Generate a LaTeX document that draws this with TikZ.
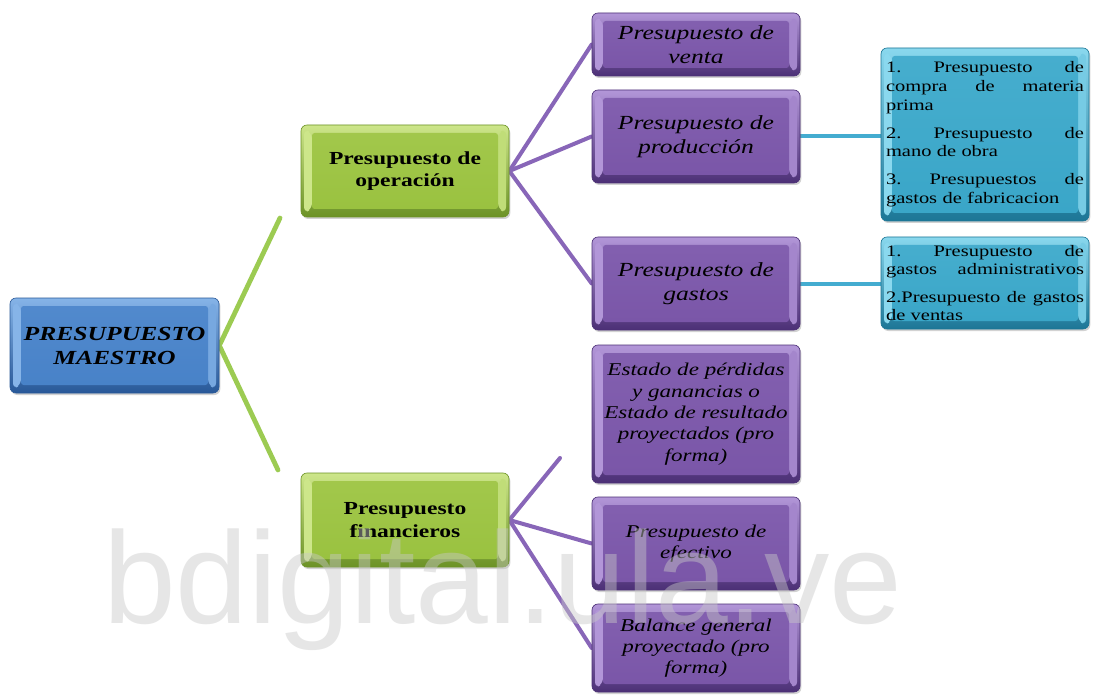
\documentclass[tikz,border=0pt]{standalone}
\usepackage{fontspec}
\setmainfont{Liberation Serif}
\newfontfamily\boxfont{Liberation Serif}[FakeStretch=1.28]
\newfontfamily\markfont{Liberation Sans}
\usetikzlibrary{calc,shadows,backgrounds}

% box palettes: light / mid / dark
\definecolor{rootL}{RGB}{134,180,232}
\definecolor{rootM}{RGB}{72,130,200}
\definecolor{rootD}{RGB}{40,88,152}
\definecolor{greenL}{RGB}{205,230,138}
\definecolor{greenM}{RGB}{154,194,64}
\definecolor{greenD}{RGB}{108,146,38}
\definecolor{purpL}{RGB}{178,150,216}
\definecolor{purpM}{RGB}{122,86,168}
\definecolor{purpD}{RGB}{76,48,118}
\definecolor{cyanL}{RGB}{138,216,238}
\definecolor{cyanM}{RGB}{58,166,200}
\definecolor{cyanD}{RGB}{28,118,150}
% connectors and watermark
\definecolor{greenLink}{RGB}{156,203,82}
\definecolor{purpLink}{RGB}{136,102,184}
\definecolor{cyanLink}{RGB}{68,172,208}
\definecolor{markGray}{RGB}{200,200,200}

% a fully justified line of the detail lists
\newcommand\spreadline[1]{\leavevmode\hbox to 148.5pt{#1}}

\begin{document}
\begin{tikzpicture}[x=0.75pt,y=-0.75pt,
  wh/.style 2 args={minimum width=#1*0.75pt, minimum height=#2*0.75pt},
  bevel/.style n args={3}{
    rounded corners=4.5pt, draw=#3, line width=0.5pt,
    top color=#1, bottom color=#3, inner sep=0pt, text=black,
    drop shadow={shadow xshift=1pt, shadow yshift=-1.5pt, opacity=0.35},
    path picture={
      \path (path picture bounding box.north west) coordinate (bvNW)
            (path picture bounding box.south east) coordinate (bvSE)
            (path picture bounding box.south west) coordinate (bvSW)
            (path picture bounding box.north east) coordinate (bvNE);
      \fill[#1] ($(bvNW)+(3,4)$) -- ($(bvNW)+(11,8)$) -- ($(bvSW)+(11,-8)$)
                -- ($(bvSW)+(3,-4)$) -- cycle;
      \fill[#1!75!#2] ($(bvNE)+(-3,4)$) -- ($(bvNE)+(-11,8)$) -- ($(bvSE)+(-11,-8)$)
                -- ($(bvSE)+(-3,-4)$) -- cycle;
      \shade[top color=#2!85!#1, bottom color=#2, rounded corners=2pt]
            ($(bvNW)+(11,8)$) rectangle ($(bvSE)+(-11,-8)$);
    }},
  rootbox/.style={bevel={rootL}{rootM}{rootD}, align=center,
    font=\boxfont\bfseries\itshape\fontsize{15}{18}\selectfont},
  opbox/.style={bevel={greenL}{greenM}{greenD}, align=center,
    font=\boxfont\bfseries\fontsize{13.8}{17}\selectfont},
  itembox/.style={bevel={purpL}{purpM}{purpD}, align=center,
    font=\boxfont\itshape\fontsize{15}{18}\selectfont},
  smallitem/.style={bevel={purpL}{purpM}{purpD}, align=center,
    font=\boxfont\itshape\fontsize{13.5}{16}\selectfont},
  listbox/.style={bevel={cyanL}{cyanM}{cyanD}, align=left,
    text width=148.5pt, font=\boxfont\fontsize{12}{14}\selectfont},
  greenlink/.style={draw=greenLink, line width=3.6pt, line cap=round},
  purplelink/.style={draw=purpLink, line width=3pt, line cap=round},
  cyanlink/.style={draw=cyanLink, line width=3pt},
  markstyle/.style={font=\markfont\fontsize{98}{98}\selectfont,
    text=markGray, text opacity=0.45, inner sep=0pt}
]
\useasboundingbox (0,0) rectangle (1095,695);
\begin{pgfonlayer}{background}
  \fill[white] (0,0) rectangle (1095,695);
\end{pgfonlayer}

% root
\node[rootbox, wh={209}{95}] (maestro) at (114.5,345.5) {PRESUPUESTO\\MAESTRO};

% second level
\node[opbox, wh={208}{92}] (operacion) at (405,171) {Presupuesto de\\operación};
\node[opbox, wh={208}{94}] (financieros) at (405,520) {Presupuesto\\financieros};

% third level
\node[itembox, wh={208}{63}] (venta) at (696,44.5) {Presupuesto de\\venta};
\node[itembox, wh={208}{93}] (produccion) at (696,136.5) {Presupuesto de\\producción};
\node[itembox, wh={208}{93}] (gastos) at (696,283.5) {Presupuesto de\\gastos};
\node[smallitem, wh={208}{138}] (estado) at (696,414)
  {Estado de pérdidas\\y ganancias o\\Estado de resultado\\proyectados (pro\\forma)};
\node[smallitem, wh={208}{93}] (efectivo) at (696,543.5) {Presupuesto de\\efectivo};
\node[smallitem, wh={208}{88}] (balance) at (696,648) {Balance general\\proyectado (pro\\forma)};

% detail lists
\node[listbox, wh={208}{173}] (compras) at (985,134.5) {%
  \spreadline{1.\hfill Presupuesto\hfill de}\\
  \spreadline{compra\hfill de\hfill materia}\\
  prima\\[7pt]
  \spreadline{2.\hfill Presupuesto\hfill de}\\
  mano de obra\\[7pt]
  \spreadline{3.\hfill Presupuestos\hfill de}\\
  gastos de fabricacion};
\node[listbox, wh={208}{92}] (administ) at (985,283) {%
  \spreadline{1.\hfill Presupuesto\hfill de}\\
  \spreadline{gastos\hfill administrativos}\\[6.5pt]
  \spreadline{2.Presupuesto\hfill de\hfill gastos}\\
  de ventas};

% free ends of the open branches
\coordinate (opfree) at (280,218);
\coordinate (finfree) at (278,470);
\coordinate (estfree) at (560,458);

\begin{pgfonlayer}{background}
  \draw[greenlink] (maestro.east) -- (opfree);
  \draw[greenlink] (maestro.east) -- (finfree);
  \draw[purplelink] (operacion.east) -- (venta.west);
  \draw[purplelink] (operacion.east) -- (produccion.west);
  \draw[purplelink] (operacion.east) -- (gastos.west);
  \draw[purplelink] (financieros.east) -- (estfree);
  \draw[purplelink] (financieros.east) -- (efectivo.west);
  \draw[purplelink] (financieros.east) -- (balance.west);
  \draw[cyanlink] (produccion.east) -- (produccion.east -| compras.west);
  \draw[cyanlink] (gastos.east) -- (gastos.east -| administ.west);
\end{pgfonlayer}

% watermark
\node[markstyle, anchor=base west] (marca) at (103,623) {bdigital.ula.ve};
\end{tikzpicture}
\end{document}
